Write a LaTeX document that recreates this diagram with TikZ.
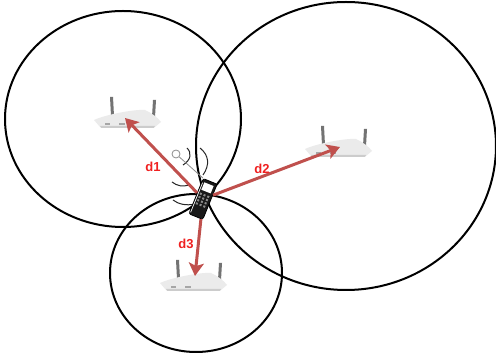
\documentclass[tikz,border=0pt]{standalone}
\usepackage{fontspec}
\setmainfont{Liberation Sans}
\usetikzlibrary{arrows.meta}
\definecolor{arrowred}{HTML}{C0504D}
\definecolor{labelred}{HTML}{F02020}
\tikzset{
  cell/.style={black, line width=2pt},
  wave/.style={black!85, line width=1pt},
  rangearrow/.style={arrowred, line width=3pt, -{Stealth[length=13pt, width=15pt, inset=3pt]}},
  dist/.style={labelred, font=\bfseries\fontsize{13}{13}\selectfont, inner sep=0pt},
  phonebody/.style={draw=black, fill=black!90, rounded corners=2pt, line width=0.8pt,
    minimum width=15pt, minimum height=38pt, inner sep=0pt, rotate=-22},
  router/.pic={
    \fill[black!55] (-16,-3) -- (-17,-22) -- (-14,-22) -- (-13,-3) -- cycle;
    \fill[black!55] (25,-2) -- (26,-19) -- (29,-19) -- (28,-2) -- cycle;
    \fill[black!8] (-33,1) .. controls (-20,-5) and (10,-10) .. (18,-9)
      .. controls (25,-6) and (31,-1) .. (34,3) -- (28,8) -- (-27,8) -- cycle;
    \fill[black!20] (-27,7) -- (28,7) -- (27,9) -- (-26,9) -- cycle;
    \fill[black!35] (-22,4) rectangle (-17,6);
    \fill[black!35] (-8,4) rectangle (-2,6);
  }
}
\begin{document}
\begin{tikzpicture}[x=1pt, y=-1pt]
\useasboundingbox (0,0) rectangle (496,355);
\fill[white] (0,0) rectangle (496,355);
% coverage
\draw[cell] (123,119) ellipse [x radius=118pt, y radius=108pt];
\draw[cell] (346,146) ellipse [x radius=150pt, y radius=144pt];
\draw[cell] (196,273) ellipse [x radius=86pt, y radius=79pt];
% access points
\pic at (127,119) {router};
\pic at (338,148) {router};
\pic at (193,282) {router};
\coordinate (ap1) at (125,118);
\coordinate (ap2) at (340,147);
\coordinate (ap3) at (195,276);
% signal
\node[circle, draw=black!45, fill=white, line width=0.8pt, minimum size=8pt, inner sep=0pt] (dial) at (176,154) {};
\draw[wave] (187,148) .. controls (192,153) and (191,160) .. (183,165);
\draw[wave] (200,148) .. controls (209,155) and (210,165) .. (203,175);
\draw[wave] (172,182) .. controls (177,186) and (183,187) .. (189,185);
\draw[wave] (173,200) .. controls (178,204) and (186,206) .. (195,204);
% mobile
\node[phonebody] (phone) at (203,199) {};
\draw[black!45, line width=0.8pt] (dial) -- (phone.north west);
\fill[white, rotate around={-22:(203,199)}] (198,183) rectangle (208,191);
\foreach \row in {195,198.5,...,206}
  \foreach \col in {199,203,207}
    \fill[black!45, rotate around={-22:(203,199)}] (\col-1,\row-1) rectangle (\col+1,\row+1);
\draw[white, line width=0.7pt, rotate around={-22:(203,199)}] (196.5,184) -- (196.5,216);
% distances
\draw[rangearrow] (phone) -- (ap1);
\draw[rangearrow] (phone) -- (ap2);
\draw[rangearrow] (phone) -- (ap3);
\node[dist] (d1) at (153,167) {d1};
\node[dist] (d2) at (262,169) {d2};
\node[dist] (d3) at (186,244) {d3};
\end{tikzpicture}
\end{document}
